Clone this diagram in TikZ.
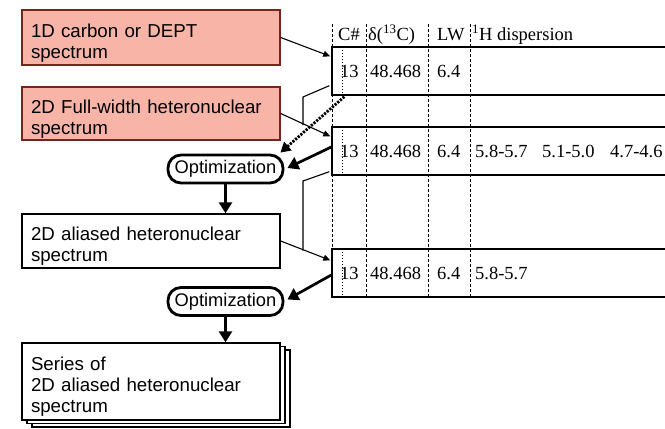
\documentclass[tikz,border=0pt]{standalone}
\usepackage{fontspec}
\setmainfont{Liberation Serif}
\setsansfont{Liberation Sans}
\usetikzlibrary{arrows.meta,calc}
\definecolor{pinkfill}{RGB}{249,180,168}
\definecolor{pinkdraw}{RGB}{115,38,28}
\newcommand{\topgap}{\rule{0pt}{24pt}}
\begin{document}
\begin{tikzpicture}[x=1pt,y=-1pt,
  sansbox/.style={draw, line width=1.4pt, minimum width=258pt, inner xsep=9pt, inner ysep=0pt,
    text width=240pt, align=left, font=\sffamily\fontsize{18.7}{21}\selectfont},
  pinkbox/.style={sansbox, fill=pinkfill, draw=pinkdraw},
  whitebox/.style={sansbox, fill=white},
  optbox/.style={draw, line width=2.8pt, rounded corners=13pt, minimum width=115pt,
    minimum height=28pt, inner sep=0pt, font=\sffamily\fontsize{18.3}{21}\selectfont},
  rowbox/.style={draw, line width=1.4pt, minimum width=350pt, minimum height=48pt, inner sep=0pt},
  cell/.style={anchor=base west, inner sep=0pt, font=\fontsize{18.5}{21}\selectfont},
  plainline/.style={line width=1.1pt},
  gridline/.style={line width=0.7pt, dash pattern=on 3pt off 2pt},
  dotline/.style={line width=1.2pt, dash pattern=on 1pt off 2pt},
  thinarrow/.style={line width=1.1pt, -{Triangle[length=7pt,width=6pt]}},
  thickarrow/.style={line width=2.7pt, -{Triangle[length=11pt,width=13pt]}},
  dotarrow/.style={line width=2.8pt, dash pattern=on 2.2pt off 1.3pt, -{Triangle[length=10pt,width=11pt]}}
]
\useasboundingbox (0,0) rectangle (665,429);

% left boxes
\node[pinkbox, minimum height=55pt] (b1) at (151,37.5) {\topgap 1D carbon or DEPT\\spectrum};
\node[pinkbox, minimum height=53pt] (b2) at (151,113.5) {\topgap 2D Full-width heteronuclear\\spectrum};
\node[optbox] (o1) at (225.5,169) {Optimization};
\node[whitebox, minimum height=54pt] (b3) at (151,241) {\topgap 2D aliased heteronuclear\\spectrum};
\node[optbox] (o2) at (225.5,301.5) {Optimization};
\node[whitebox, minimum height=77pt] (b4c) at (161,388.5) {};
\node[whitebox, minimum height=77pt] (b4b) at (156,385) {};
\node[whitebox, minimum height=77pt] (b4) at (151,381.5) {\topgap Series of\\2D aliased heteronuclear\\spectrum};

% table grid
\foreach \x in {366,428,470} \draw[gridline] (\x,24) -- (\x,297);
\draw[gridline] (332,24) -- (332,249);

% rows
\node[rowbox] (r1) at (507,71) {};
\node[rowbox] (r2) at (507,151) {};
\node[rowbox] (r3) at (507,273) {};
\foreach \r in {r1,r2,r3}
  \draw[dotline] ($(\r.north west)+(11,4)$) -- ($(\r.south west)+(11,-3)$);

% header
\node[cell] (h1) at (338,40) {C\#};
\node[cell] (h2) at (368,40) {δ(\textsuperscript{13}C)};
\node[cell] (h3) at (437,40) {LW};
\node[cell] (h4) at (472,40) {\textsuperscript{1}H dispersion};

% row texts
\node[cell] (a1) at (340,77) {13};
\node[cell] (a2) at (370,77) {48.468};
\node[cell] (a3) at (437,77) {6.4};
\node[cell] (c1) at (340,157) {13};
\node[cell] (c2) at (370,157) {48.468};
\node[cell] (c3) at (437,157) {6.4};
\node[cell] (c4) at (475,157) {5.8-5.7};
\node[cell] (c5) at (542,157) {5.1-5.0};
\node[cell] (c6) at (610,157) {4.7-4.6};
\node[cell] (d1) at (340,279) {13};
\node[cell] (d2) at (370,279) {48.468};
\node[cell] (d3) at (437,279) {6.4};
\node[cell] (d4) at (475,279) {5.8-5.7};

% connectors
\draw[thinarrow] (b1.east) -- ($(r1.north west)+(-1,10)$);
\draw[thinarrow] (b2.east) -- ($(r2.north west)+(-1,10)$);
\draw[thinarrow] (b3.east) -- ($(r3.north west)+(-1,12)$);

\coordinate (k1) at (303,97);
\coordinate (k1e) at (303,125);
\draw[plainline] ($(r1.south west)+(-2,-10)$) -- (k1) -- (k1e);
\coordinate (k2) at (303,181);
\coordinate (k2e) at (303,250.5);
\draw[plainline] ($(r2.south west)+(-2,-4)$) -- (k2) -- (k2e);

\draw[dotarrow] ($(r1.south west)+(13,1)$) -- ($(o1.north east)+(-4,-1)$);
\draw[thickarrow] ($(r2.west)+(0,-4)$) -- ($(o1.east)+(3,-1)$);
\draw[thickarrow] ($(r3.west)+(0,2)$) -- ($(o2.east)+(3,-2)$);

\draw[thickarrow] (o1.south) -- (o1.south |- b3.north);
\draw[thickarrow] (o2.south) -- (o2.south |- b4.north);
\end{tikzpicture}
\end{document}
